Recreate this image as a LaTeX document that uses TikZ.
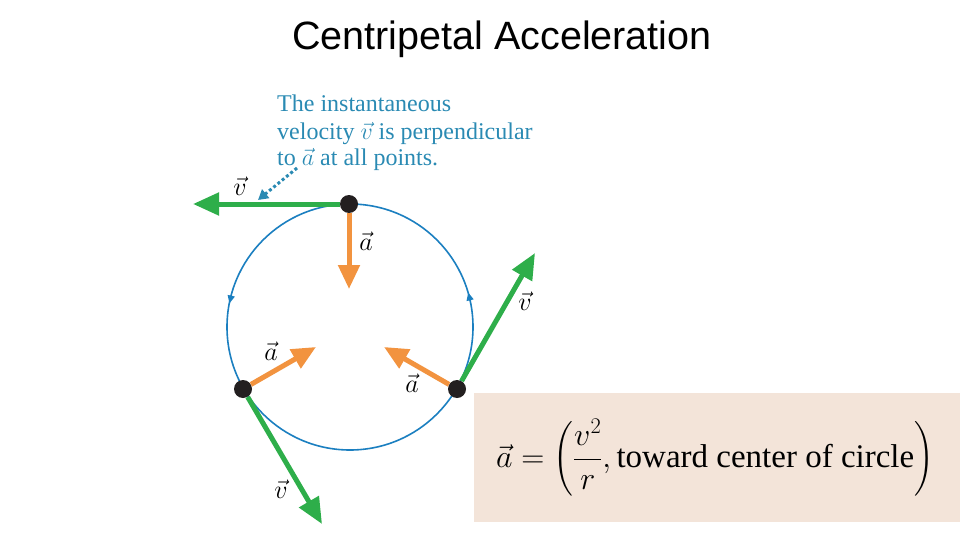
\documentclass[tikz,border=0pt]{standalone}
\usepackage{fix-cm}
\usepackage{amsmath}
\usepackage{fontspec}
\setmainfont{Liberation Serif}
\newfontfamily\titlefont{Liberation Sans}
\usetikzlibrary{arrows.meta}
\definecolor{circblue}{HTML}{1B7FC0}
\definecolor{noteblue}{HTML}{2A8AB3}
\definecolor{vgreen}{HTML}{2EAE4A}
\definecolor{aorange}{HTML}{F2933F}
\definecolor{dotblack}{HTML}{231F20}
\definecolor{boxbeige}{HTML}{F3E4D9}
\begin{document}
\begin{tikzpicture}[x=1pt,y=-1pt,
  vel/.style={draw=vgreen, line width=5pt, -{Triangle[length=26pt,width=22pt]}},
  acc/.style={draw=aorange, line width=5pt, -{Triangle[length=24pt,width=21pt]}},
  dotpt/.style={circle, fill=dotblack, inner sep=0pt, minimum size=18pt},
  lab/.style={inner sep=0pt, font=\fontsize{26}{26}\selectfont},
  note/.style={text=noteblue, font=\fontsize{24}{26}\selectfont, anchor=base west, inner sep=0pt},
  circtip/.style={draw=circblue, line width=1.5pt, -{Triangle[length=8pt,width=7pt]}},
]
\useasboundingbox (0,0) rectangle (960,540);
% title
\node[font=\titlefont\fontsize{39.5}{40}\selectfont, anchor=base, inner sep=0pt] (title) at (502,50) {Centripetal Acceleration};
% formula box
\node[fill=boxbeige, minimum width=486pt, minimum height=129pt, anchor=north west, inner sep=0pt] (fbox) at (474,393) {};
\node[font=\fontsize{32}{38}\selectfont, inner sep=0pt] (formula) at (715,458)
  {$\displaystyle \vec{a} = \left(\frac{v^2}{r}, \text{\fontsize{33}{38}\selectfont toward center of circle}\right)$};
% note
\node[note] (n1) at (277,112) {The instantaneous};
\node[note] (n2) at (277,140) {velocity $\vec{v}$ is perpendicular};
\node[note] (n3) at (277,166) {to $\vec{a}$ at all points.};
\coordinate (ptrstart) at (297,168);
\coordinate (ptrend) at (258,200);
\draw[noteblue, line width=3pt, dash pattern=on 3pt off 2.5pt, -{Triangle[length=10pt,width=11pt]}] (ptrstart) -- (ptrend);
% circle
\coordinate (c) at (350,327);
\draw[circblue, line width=1.6pt] (c) circle[radius=123pt];
\coordinate (ltipA) at (231.4,295.0);
\coordinate (ltipB) at (229.4,303.5);
\draw[circtip] (ltipA) -- (ltipB);
\coordinate (rtipA) at (470.3,301.0);
\coordinate (rtipB) at (468.2,292.5);
\draw[circtip] (rtipA) -- (rtipB);
% points
\node[dotpt] (p1) at (349,204) {};
\node[dotpt] (p2) at (243,389) {};
\node[dotpt] (p3) at (457,389) {};
% arrow tips
\coordinate (v1) at (193,204);
\coordinate (v2) at (322,524);
\coordinate (v3) at (535,253);
\coordinate (a1) at (349,289);
\coordinate (a2) at (316,347);
\coordinate (a3) at (384,347);
\draw[vel] (p1) -- (v1);
\draw[vel] (p2) -- (v2);
\draw[vel] (p3) -- (v3);
\draw[acc] (p1) -- (a1);
\draw[acc] (p2) -- (a2);
\draw[acc] (p3) -- (a3);
% labels
\node[lab] (lv1) at (240,186) {$\vec{v}$};
\node[lab] (la1) at (366,241) {$\vec{a}$};
\node[lab] (lv3) at (525,301) {$\vec{v}$};
\node[lab] (la2) at (271,351) {$\vec{a}$};
\node[lab] (la3) at (412,383) {$\vec{a}$};
\node[lab] (lv2) at (281,489) {$\vec{v}$};
\end{tikzpicture}
\end{document}
